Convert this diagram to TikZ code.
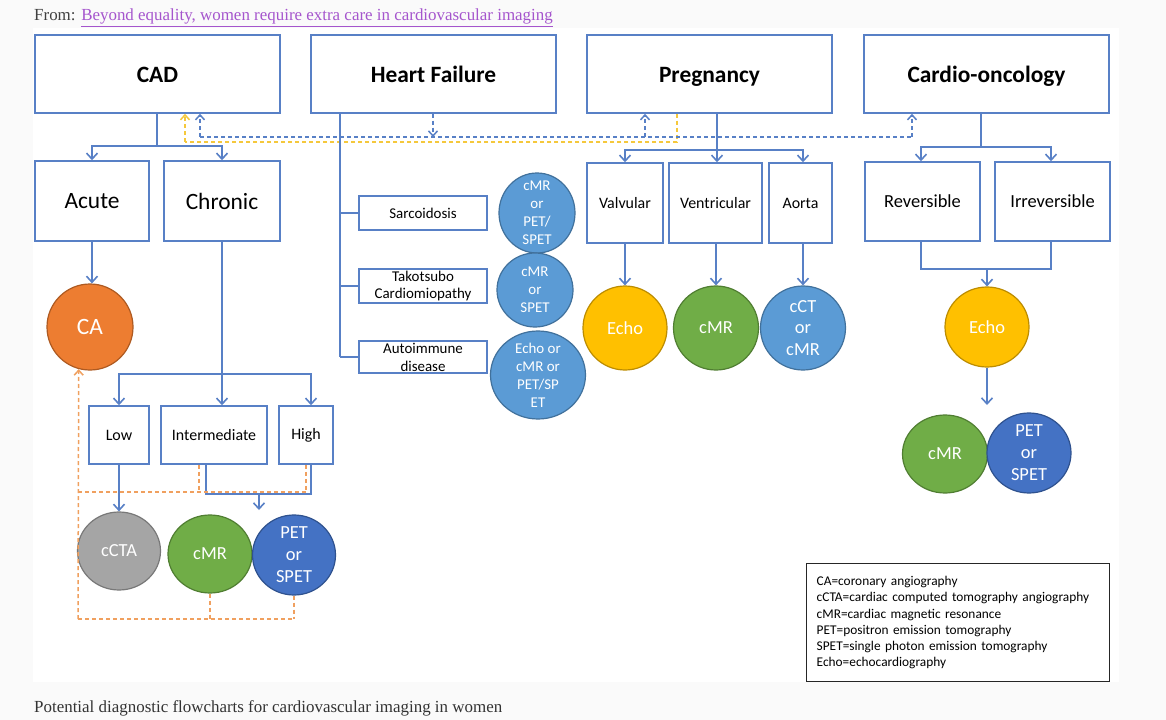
\documentclass[tikz,border=0pt]{standalone}
\usepackage{fontspec}
\setmainfont{Carlito}
\newfontfamily\webfont{Liberation Serif}
\usetikzlibrary{arrows.meta,shapes.geometric}
\definecolor{linecol}{RGB}{88,128,198}
\definecolor{linkcol}{RGB}{165,85,205}
\definecolor{pagecol}{RGB}{250,250,250}
\definecolor{orangefill}{RGB}{237,125,49}
\definecolor{orangeedge}{RGB}{174,90,33}
\definecolor{grayfill}{RGB}{165,165,165}
\definecolor{grayedge}{RGB}{120,120,120}
\definecolor{greenfill}{RGB}{112,173,71}
\definecolor{greenedge}{RGB}{80,126,50}
\definecolor{bluefill}{RGB}{68,114,196}
\definecolor{blueedge}{RGB}{47,82,143}
\definecolor{skyfill}{RGB}{91,155,213}
\definecolor{skyedge}{RGB}{65,113,156}
\definecolor{yellowfill}{RGB}{255,192,0}
\definecolor{yellowedge}{RGB}{188,140,0}
\definecolor{orangedash}{RGB}{240,160,95}
\definecolor{yellowdash}{RGB}{245,200,60}
\begin{document}
\begin{tikzpicture}[x=1bp,y=1bp]
			\tikzstyle{every node}+=[inner sep=0pt]
			\tikzstyle{bigtext}=[font=\fontsize{23.5}{28}\selectfont]
			\tikzstyle{bodytext}=[font=\fontsize{18.5}{22}\selectfont]
			\tikzstyle{midtext}=[font=\fontsize{16}{19}\selectfont]
			\tikzstyle{smalltext}=[font=\fontsize{15}{18}\selectfont]
			\tikzstyle{topbox}=[draw=linecol,line width=1.5bp,minimum width=245bp,minimum height=78bp,text height=17pt,text depth=0pt,font=\fontsize{23.5}{28}\selectfont\bfseries]
			\tikzstyle{subbox}=[draw=linecol,line width=1.5bp,align=center]
			\tikzstyle{disc}=[ellipse,line width=1.2bp]
			\tikzstyle{disctext}=[text=white,align=center]
			\tikzstyle{wire}=[draw=linecol,line width=1.6bp]
			\tikzstyle{barb}=[-{Straight Barb[length=6bp,width=11bp]}]
			\tikzstyle{dbarb}=[-{Straight Barb[length=5bp,width=9bp]}]
			\tikzstyle{bdash}=[draw=linecol,line width=1.5bp,dash pattern=on 4bp off 3bp]
			\tikzstyle{ydash}=[draw=yellowdash,line width=1.5bp,dash pattern=on 4bp off 3bp]
			\tikzstyle{odash}=[draw=orangedash,line width=1.5bp,dash pattern=on 4bp off 3bp]
			\fill [pagecol] (0,0) rectangle (1166,-720);
			\fill [white] (33,-28) rectangle (1119,-682);
			\useasboundingbox (0,0) rectangle (1166,-720);
			\node (from) [anchor=base west,font=\webfont\fontsize{17}{20}\selectfont,text=black!75] at (34,-21) {From: \textcolor{linkcol}{\underline{Beyond equality, women require extra care in cardiovascular imaging}}};
			\node (caption) [anchor=base west,font=\webfont\fontsize{17}{20}\selectfont,text=black!80] at (34,-712) {Potential diagnostic flowcharts for cardiovascular imaging in women};
			\node (cad) [topbox] at (157.5,-74) {CAD};
			\node (hf) [topbox] at (433.5,-74) {Heart Failure};
			\node (preg) [topbox] at (709.5,-74) {Pregnancy};
			\node (onco) [topbox] at (986.5,-74) {Cardio-oncology};
			\node (acute) [subbox,bigtext,minimum width=114bp,minimum height=80bp] at (92,-201) {Acute};
			\node (chronic) [subbox,bigtext,minimum width=116bp,minimum height=80bp] at (222,-201) {Chronic};
			\node (ca) [disc,fill=orangefill,draw=orangeedge,minimum width=86bp,minimum height=86bp,label={[disctext,bigtext]center:CA}] at (90,-327) {};
			\node (low) [subbox,midtext,minimum width=60bp,minimum height=58bp] at (119,-435) {Low};
			\node (inter) [subbox,midtext,minimum width=106bp,minimum height=58bp] at (214,-435) {Intermediate};
			\node (high) [subbox,midtext,minimum width=54bp,minimum height=58bp] at (306,-435) {High};
			\node (ccta) [disc,fill=grayfill,draw=grayedge,minimum width=83bp,minimum height=78bp,label={[disctext,bodytext]center:cCTA}] at (119,-551) {};
			\node (cmrlow) [disc,fill=greenfill,draw=greenedge,minimum width=84bp,minimum height=78bp,label={[disctext,bodytext]center:cMR}] at (210,-554) {};
			\node (petlow) [disc,fill=bluefill,draw=blueedge,minimum width=83bp,minimum height=80bp,label={[disctext,bodytext]center:PET\\or\\SPET}] at (294,-555) {};
			\node (sarc) [subbox,smalltext,minimum width=128bp,minimum height=34bp] at (423,-213) {Sarcoidosis};
			\node (tako) [subbox,smalltext,minimum width=128bp,minimum height=34bp] at (423,-286) {Takotsubo\\Cardiomiopathy};
			\node (auto) [subbox,smalltext,minimum width=128bp,minimum height=32bp] at (423,-357) {Autoimmune\\disease};
			\node (hfc1) [disc,fill=skyfill,draw=skyedge,minimum width=76bp,minimum height=80bp,label={[disctext,smalltext]center:cMR\\or\\PET/\\SPET}] at (537,-213) {};
			\node (hfc2) [disc,fill=skyfill,draw=skyedge,minimum width=76bp,minimum height=74bp,label={[disctext,smalltext]center:cMR\\or\\SPET}] at (535,-290) {};
			\node (hfc3) [disc,fill=skyfill,draw=skyedge,minimum width=95bp,minimum height=88bp,label={[disctext,smalltext]center:Echo or\\cMR or\\PET/SP\\ET}] at (538,-375) {};
			\node (valv) [subbox,midtext,minimum width=76bp,minimum height=80bp] at (625,-203) {Valvular};
			\node (vent) [subbox,midtext,minimum width=93bp,minimum height=80bp] at (715.5,-203) {Ventricular};
			\node (aorta) [subbox,midtext,minimum width=63bp,minimum height=80bp] at (800.5,-203) {Aorta};
			\node (echopreg) [disc,fill=yellowfill,draw=yellowedge,minimum width=84bp,minimum height=84bp,label={[disctext,bodytext]center:Echo}] at (625,-328) {};
			\node (cmrpreg) [disc,fill=greenfill,draw=greenedge,minimum width=85bp,minimum height=84bp,label={[disctext,bodytext]center:cMR}] at (716,-328) {};
			\node (cct) [disc,fill=skyfill,draw=skyedge,minimum width=85bp,minimum height=84bp,label={[disctext,bodytext]center:cCT\\or\\cMR}] at (803,-328) {};
			\node (rev) [subbox,bodytext,minimum width=115bp,minimum height=79bp] at (922.5,-201.5) {Reversible};
			\node (irrev) [subbox,bodytext,minimum width=115bp,minimum height=79bp] at (1052.5,-201.5) {Irreversible};
			\node (echoonco) [disc,fill=yellowfill,draw=yellowedge,minimum width=84bp,minimum height=80bp,label={[disctext,bodytext]center:Echo}] at (987,-327) {};
			\node (cmronco) [disc,fill=greenfill,draw=greenedge,minimum width=85bp,minimum height=78bp,label={[disctext,bodytext]center:cMR}] at (945,-454) {};
			\node (petonco) [disc,fill=bluefill,draw=blueedge,minimum width=84bp,minimum height=80bp,label={[disctext,bodytext]center:PET\\or\\SPET}] at (1029,-453) {};
			\node (legend) [draw=black!85,line width=1.4bp,anchor=north west,align=left,text width=283bp,inner xsep=10bp,minimum height=118bp,font=\fontsize{13.4}{16.2}\selectfont] at (806,-563) {CA=coronary angiography\\cCTA=cardiac computed tomography angiography\\cMR=cardiac magnetic resonance\\PET=positron emission tomography\\SPET=single photon emission tomography\\Echo=echocardiography};
			\coordinate (yr) at (677,-142);
			\coordinate (yl) at (185,-142);
			\draw [ydash] (yr |- preg.south) -- (yr) -- (yl);
			\draw [ydash,dbarb] (yl) -- (yl |- cad.south);
			\coordinate (bl) at (200,-137);
			\coordinate (bh) at (433,-137);
			\coordinate (bp) at (645,-137);
			\coordinate (br) at (912,-137);
			\draw [bdash] (bl) -- (br);
			\draw [bdash,dbarb] (hf.south -| bh) -- (bh);
			\draw [bdash,dbarb] (bl) -- (bl |- cad.south);
			\draw [bdash,dbarb] (bp) -- (bp |- preg.south);
			\draw [bdash,dbarb] (br) -- (br |- onco.south);
			\coordinate (cadj) at (157,-146);
			\draw [wire] (cad.south -| cadj) -- (cadj);
			\draw [wire,barb] (cadj) -| (acute);
			\draw [wire,barb] (cadj) -| (chronic);
			\draw [wire,barb] (acute.south) -- (acute.south |- ca.north);
			\coordinate (chrj) at (222,-374);
			\draw [wire] (chronic) -- (chrj);
			\draw [wire,barb] (chrj) -| (low);
			\draw [wire,barb] (chrj) -- (chrj |- inter.north);
			\draw [wire,barb] (chrj) -| ([xshift=5bp]high.north);
			\draw [wire,barb] (low) -- (ccta);
			\coordinate (ihj) at (206,-494);
			\coordinate (mixj) at (259,-494);
			\coordinate (mixend) at (259,-510);
			\draw [wire] (inter.south -| ihj) -- (ihj) -| ([xshift=5bp]high.south);
			\draw [wire,barb] (mixj) -- (mixend);
			\coordinate (oi) at (199,-492);
			\coordinate (oh) at (306,-492);
			\coordinate (ol) at (78,-492);
			\coordinate (obl) at (78,-619);
			\draw [odash] (inter.south -| oi) -- (oi);
			\draw [odash] (high.south) -- (oh);
			\draw [odash] (ol) -- (oh);
			\draw [odash] (cmrlow.south) -- (cmrlow.south |- obl);
			\draw [odash] (petlow.south) -- (petlow.south |- obl);
			\draw [odash] (obl) -- (petlow.south |- obl);
			\draw [odash,dbarb] (obl) -- (ca.-105);
			\coordinate (hft) at (340,-357);
			\draw [wire] (hf.south -| hft) -- (hft);
			\draw [wire] (sarc.west -| hft) -- (sarc);
			\draw [wire] (tako.west -| hft) -- (tako);
			\draw [wire] (auto.west -| hft) -- (auto);
			\coordinate (pregj) at (717,-150);
			\draw [wire] (preg.south -| pregj) -- (pregj);
			\draw [wire,barb] (pregj) -| (valv);
			\draw [wire,barb] (pregj) -- (pregj |- vent.north);
			\draw [wire,barb] (pregj) -| (aorta.north -| cct);
			\draw [wire,barb] (valv) -- (echopreg);
			\draw [wire,barb] (vent.south -| cmrpreg) -- (cmrpreg);
			\draw [wire,barb] (aorta.south -| cct) -- (cct);
			\coordinate (oncoj) at (981,-147);
			\coordinate (revl) at (921,-269);
			\coordinate (revj) at (987,-269);
			\coordinate (revr) at (1051,-269);
			\coordinate (echoend) at (987,-405);
			\draw [wire] (onco.south -| oncoj) -- (oncoj);
			\draw [wire,barb] (oncoj) -| (rev.north -| revl);
			\draw [wire,barb] (oncoj) -| (irrev.north -| revr);
			\draw [wire] (rev.south -| revl) -- (revl) -- (revr) -- (irrev.south -| revr);
			\draw [wire,barb] (revj) -- (echoonco);
			\draw [wire,barb] (echoonco) -- (echoend);
		\end{tikzpicture}
\end{document}
